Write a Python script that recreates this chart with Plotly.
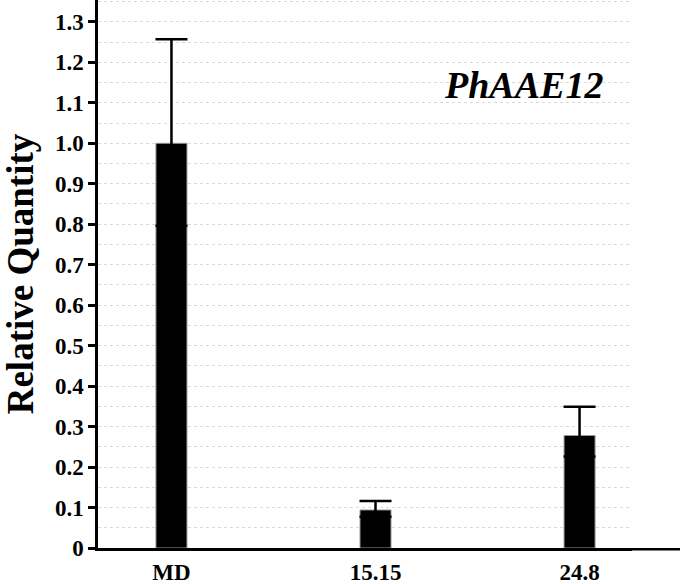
import plotly.graph_objects as go

categories = ["MD", "15.15", "24.8"]
values = [1.0, 0.094, 0.278]
err_plus = [0.257, 0.022, 0.071]
err_minus = [0.204, 0.017, 0.052]
y_ticks = [0, 0.1, 0.2, 0.3, 0.4, 0.5, 0.6, 0.7, 0.8, 0.9, 1.0, 1.1, 1.2, 1.3]
y_ticktext = ["0"] + [f"{v:.1f}" for v in y_ticks[1:]]
gene = "PhAAE12"

FONT = "Times New Roman, Liberation Serif, serif"

fig = go.Figure()
fig.add_trace(go.Bar(
    x=categories, y=values, width=0.152,
    marker=dict(color="black", line=dict(color="#9a9a9a", width=1)),
    error_y=dict(type="data", symmetric=False, array=err_plus, arrayminus=err_minus,
                 color="black", thickness=2.5, width=16),
))

fig.add_annotation(text=f"<b><i>{gene}</i></b>", xref="paper", yref="paper",
                   x=0.796, y=0.845, xanchor="center", yanchor="middle", showarrow=False,
                   font=dict(family=FONT, size=38, color="black"))

# x axis line runs on past the plot area
fig.add_shape(type="line", xref="paper", yref="paper", ysizemode="pixel", yanchor=0,
              x0=0.95, x1=1.1, y0=-1.25, y1=-1.25,
              line=dict(color="black", width=2.5))

fig.update_layout(
    width=680, height=584, showlegend=False,
    plot_bgcolor="white", paper_bgcolor="white",
    margin=dict(l=98, r=48, t=0, b=36),
    font=dict(family=FONT, color="black"),
    xaxis=dict(range=[-0.36, 2.257], showline=True, linecolor="black", linewidth=2.5,
               ticks="", showgrid=False, automargin=False, ticklabelstandoff=2,
               tickfont=dict(family=FONT, size=23, color="black"),
               tickprefix="<b>", ticksuffix="</b>"),
    yaxis=dict(range=[0, 1.354], tickvals=y_ticks, ticktext=[f"<b>{t}</b>" for t in y_ticktext],
               showline=True, linecolor="black", linewidth=2.5, automargin=False,
               ticks="outside", ticklen=7, tickwidth=2.5, tickcolor="black",
               tickfont=dict(family=FONT, size=23, color="black"),
               showgrid=True, gridcolor="#d9d9d9", griddash="dot", gridwidth=1,
               minor=dict(dtick=0.05, showgrid=True, gridcolor="#d9d9d9", griddash="dot", gridwidth=1),
               zeroline=False,
               title=dict(text="<b>Relative Quantity</b>", standoff=12,
                          font=dict(family=FONT, size=37, color="black"))),
)

fig.write_html("out.html", config={"displayModeBar": False},
               post_script="document.body.style.margin='0';")
